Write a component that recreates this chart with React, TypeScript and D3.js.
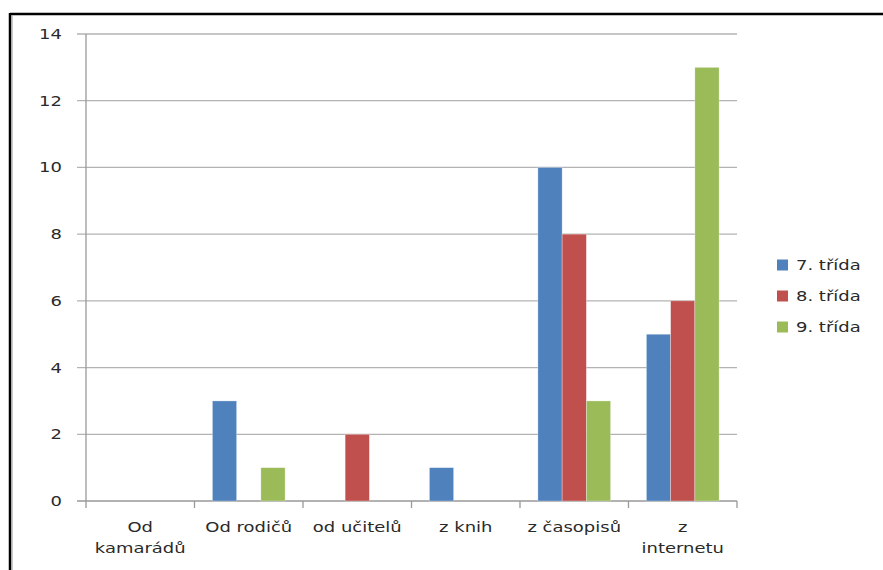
import React from "react";
import * as d3 from "d3";

const categories = ["Od kamarádů", "Od rodičů", "od učitelů", "z knih", "z časopisů", "z internetu"];
// label lines as wrapped under the axis
const categoryLines = [["Od", "kamarádů"], ["Od rodičů"], ["od učitelů"], ["z knih"], ["z časopisů"], ["z", "internetu"]];
const seriesNames = ["7. třída", "8. třída", "9. třída"];
const trida7 = [0, 3, 0, 1, 10, 5];
const trida8 = [0, 0, 2, 0, 8, 6];
const trida9 = [0, 1, 0, 0, 3, 13];
const yTicks = [0, 2, 4, 6, 8, 10, 12, 14];

const seriesValues = [trida7, trida8, trida9];
const colors = ["#4F81BD", "#C0504D", "#9BBB59"];

const W = 883;
const H = 570;
const left = 86;
const right = 737;
const top = 34;
const bottom = 501;
const FONT = "'DejaVu Sans', sans-serif";
const FS = 14.5;
const SX = 1.24;
const TEXT = "#2a2a2a";

export default function App() {
  const x0 = d3.scaleBand<string>().domain(categories).range([left, right]).paddingInner(0.33).paddingOuter(0.165);
  const xCat = d3.scaleBand<string>().domain(categories).range([left, right]);
  const x1 = d3.scaleBand<string>().domain(seriesNames).range([0, x0.bandwidth()]);
  const y = d3.scaleLinear().domain([0, 14]).range([bottom, top]);

  const stretched = (tx: number, ty: number) => `translate(${tx},${ty}) scale(${SX},1)`;

  return (
    <svg width={W} height={H} style={{ position: "absolute", left: 0, top: 0, background: "#fff" }}>
      {/* frame */}
      <line x1={10} y1={14} x2={W} y2={14} stroke="#000" strokeWidth={2.5} />
      <line x1={10} y1={13} x2={10} y2={H} stroke="#000" strokeWidth={2.5} />
      <line x1={12} y1={15} x2={12} y2={H} stroke="#999" strokeWidth={1} />

      {/* grid + y ticks */}
      {yTicks.map((t) => (
        <g key={t}>
          <line x1={77} x2={right} y1={y(t)} y2={y(t)} stroke={t === 0 ? "#999" : "#b3b3b3"} strokeWidth={1.3} />
          <text
            transform={stretched(62, y(t) + 5)}
            textAnchor="end"
            fontFamily={FONT}
            fontSize={FS}
            fill={TEXT}
          >
            {t}
          </text>
        </g>
      ))}
      {/* y axis */}
      <line x1={left} x2={left} y1={top} y2={bottom} stroke="#999" strokeWidth={1.3} />
      {/* category ticks */}
      {categories.map((c) => (
        <line key={c} x1={xCat(c)!} x2={xCat(c)!} y1={bottom} y2={bottom + 7} stroke="#999" strokeWidth={1.3} />
      ))}
      <line x1={right} x2={right} y1={bottom} y2={bottom + 7} stroke="#999" strokeWidth={1.3} />

      {/* bars */}
      {categories.map((c, ci) => (
        <g key={c} transform={`translate(${x0(c)},0)`}>
          {seriesNames.map((s, si) => {
            const v = seriesValues[si][ci];
            if (v === 0) return null;
            return (
              <rect
                key={s}
                x={x1(s)!}
                y={y(v)}
                width={x1.bandwidth()}
                height={bottom - y(v)}
                fill={colors[si]}
                stroke="rgba(255,255,255,0.5)"
                strokeWidth={0.6}
              />
            );
          })}
        </g>
      ))}

      {/* category labels */}
      {categories.map((c, ci) => {
        const cx = xCat(c)! + xCat.bandwidth() / 2;
        return categoryLines[ci].map((ln, li) => (
          <text
            key={c + li}
            transform={stretched(cx, 532 + li * 21)}
            textAnchor="middle"
            fontFamily={FONT}
            fontSize={FS}
            fill={TEXT}
          >
            {ln}
          </text>
        ));
      })}

      {/* legend */}
      {seriesNames.map((s, si) => {
        const ly = 265 + si * 31;
        return (
          <g key={s}>
            <rect x={777} y={ly - 5.5} width={11} height={11} fill={colors[si]} />
            <text transform={stretched(796, ly + 5)} fontFamily={FONT} fontSize={FS} fill={TEXT}>
              {s}
            </text>
          </g>
        );
      })}
    </svg>
  );
}
